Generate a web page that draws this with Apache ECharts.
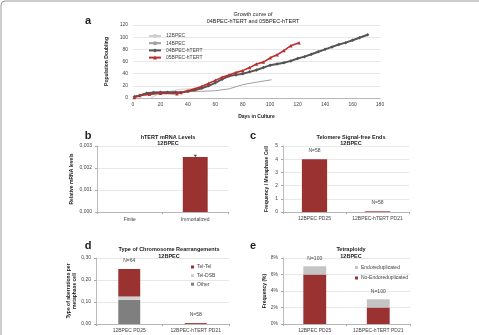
<!DOCTYPE html>
<html><head><meta charset="utf-8">
<script src="https://cdn.jsdelivr.net/npm/echarts@6/dist/echarts.min.js"></script>
<style>html,body{margin:0;padding:0;background:#fff}#c{width:479px;height:335px}</style>
</head><body><div id="c"></div>
<script>
// Panel a: growth curves [day, population doubling]
var bpec12 = [[13,0],[18,6],[25,10],[33,14],[40,15],[47,16],[55,19]];
var bpec14 = [[0,2],[10,8],[20,9],[30,10],[40,10.5],[50,11],[60,12],[70,15],[80,22],[90,26],[101,30]];
var bpec04 = [[1,2],[5,4],[10,8],[15,9],[20,9.5],[25,9.5],[31,9.5],[35,9],[40,11],[45,13],[50,16],[55,20],[60,25],[65,31],[70,36],[75,38],[80,40],[85,43],[90,46],[95,50],[100,54],[105,56],[110,58],[115,61],[120,65],[125,68],[130,72],[135,76],[140,80],[145,84],[150,88],[155,91],[160,95],[165,99],[171,104]];
var bpec05 = [[1,1],[5,4],[12,6],[20,8],[32,7],[35,9],[40,12],[45,15],[50,19],[55,24],[60,29],[65,34],[70,38],[75,42],[80,45],[85,50],[90,56],[95,59],[100,66],[105,71],[110,78],[115,86],[121,91]];
// Panel b
var bCats = ['Finite','Immortalized'];
var bVals = [0, 0.0025];
var bErr = [0, 0.00008];
// Panel c
var cCats = ['12BPEC PD25','12BPEC-hTERT PD21'];
var cVals = [4, 0.05];
var cN = ['N=58','N=58'];
// Panel d
var dCats = ['12BPEC PD25','12BPEC-hTERT PD21'];
var dOther = [0.11, 0];
var dTelDSB = [0.015, 0];
var dTelTel = [0.125, 0.004];
var dN = ['N=64','N=58'];
// Panel e
var eCats = ['12BPEC PD25','12BPEC-hTERT PD21'];
var eNoEndo = [6, 2];
var eEndo = [1, 1];
var eN = ['N=100','N=100'];

var RED = '#9b3232';
var FONT = 'Liberation Sans';
var tick = {fontSize:5, color:'#444', fontFamily:FONT};
var catTick = {fontSize:5, color:'#444', fontFamily:FONT, interval:0, hideOverlap:false};
var gridLine = {show:true, lineStyle:{color:'#e2e2e2', width:0.8}};
var axLine = {show:true, lineStyle:{color:'#aaa', width:0.8}};

function ttl(text, x, y, size, bold){
  return {text:text, left:x, top:y, textAlign:'center', textStyle:{fontSize:size, fontWeight:bold?'bold':'normal', color:'#222', fontFamily:FONT}};
}
function comma(d){ return function(v){ return v.toFixed(d).replace('.', ','); }; }

var chart = echarts.init(document.getElementById('c'), null, {renderer:'canvas'});
var option = {
  animation:false,
  textStyle:{fontFamily:FONT},
  title:[
    ttl('Growth curve of', 248, 6, 5.5, false),
    ttl('04BPEC-hTERT and 05BPEC-hTERT', 248, 13, 5.5, false),
    ttl('a', 83, 10, 11, true),
    ttl('hTERT mRNA Levels', 163, 129, 5.5, true),
    ttl('12BPEC', 163, 135.5, 5.5, true),
    ttl('b', 83, 125, 11, true),
    ttl('Telomere Signal-free Ends', 346, 129, 5.5, true),
    ttl('12BPEC', 346, 135.5, 5.5, true),
    ttl('c', 248, 125, 11, true),
    ttl('Type of Chromosome Rearrangements', 164, 241.5, 5.5, true),
    ttl('12BPEC', 164, 248, 5.5, true),
    ttl('d', 83, 235, 11, true),
    ttl('Tetraploidy', 346, 241.5, 5.5, true),
    ttl('12BPEC', 346, 248, 5.5, true),
    ttl('e', 248, 235, 11, true)
  ],
  graphic:[{type:'rect', shape:{x:1, y:1, width:520, height:400, r:4}, style:{fill:'none', stroke:'#9a9a9a', lineWidth:1}, silent:true}],
  legend:[
    {orient:'vertical', left:143, top:28.5, itemWidth:12, itemHeight:5, itemGap:2.2, textStyle:{fontSize:5, color:'#444'},
     data:['12BPEC','14BPEC','04BPEC-hTERT','05BPEC-hTERT']},
    {orient:'vertical', left:186, top:259.5, itemWidth:3, itemHeight:3, itemGap:3.6, icon:'rect', textStyle:{fontSize:5, color:'#444', padding:[0,0,0,-2]},
     data:['Tel-Tel','Tel-DSB','Other']},
    {orient:'vertical', left:350, top:260, itemWidth:3, itemHeight:3, itemGap:5.5, icon:'rect', textStyle:{fontSize:5, color:'#444', padding:[0,0,0,-2]},
     data:['Endoreduplicated','No-Endoreduplicated']}
  ],
  grid:[
    {left:133, top:25, width:247, height:73},
    {left:97, top:146, width:131, height:66},
    {left:283, top:146, width:126, height:66},
    {left:96, top:258, width:133, height:66},
    {left:283, top:258, width:127, height:66}
  ],
  xAxis:[
    {gridIndex:0, type:'value', min:0, max:180, interval:20, axisLine:axLine, axisTick:{show:false}, splitLine:{show:false},
     axisLabel:Object.assign({margin:4}, tick), name:'Days in Culture', nameLocation:'middle', nameGap:16,
     nameTextStyle:{fontSize:5, fontWeight:'bold', color:'#222'}},
    {gridIndex:1, type:'category', data:bCats, axisLine:axLine, axisTick:{show:true, lineStyle:{color:'#aaa'}, length:2}, axisLabel:Object.assign({margin:5}, catTick)},
    {gridIndex:2, type:'category', data:cCats, axisLine:axLine, axisTick:{show:true, lineStyle:{color:'#aaa'}, length:2}, axisLabel:Object.assign({margin:4}, catTick)},
    {gridIndex:3, type:'category', data:dCats, axisLine:axLine, axisTick:{show:true, lineStyle:{color:'#aaa'}, length:2}, axisLabel:Object.assign({margin:4}, catTick)},
    {gridIndex:4, type:'category', data:eCats, axisLine:axLine, axisTick:{show:true, lineStyle:{color:'#aaa'}, length:2}, axisLabel:Object.assign({margin:4}, catTick)}
  ],
  yAxis:[
    {gridIndex:0, type:'value', min:0, max:120, interval:20, axisLine:{show:false}, axisTick:{show:false}, splitLine:gridLine,
     axisLabel:Object.assign({margin:5}, tick), name:'Population Doubling', nameLocation:'middle', nameGap:19, nameRotate:90,
     nameTextStyle:{fontSize:5, fontWeight:'bold', color:'#222'}},
    {gridIndex:1, type:'value', min:0, max:0.003, interval:0.001, axisLine:axLine, axisTick:{show:true, length:2, lineStyle:{color:'#aaa'}}, splitLine:gridLine,
     axisLabel:Object.assign({margin:5, formatter:comma(3)}, tick), name:'Relative mRNA levels', nameLocation:'middle', nameGap:23, nameRotate:90,
     nameTextStyle:{fontSize:5, fontWeight:'bold', color:'#222'}},
    {gridIndex:2, type:'value', min:0, max:5, interval:1, axisLine:axLine, axisTick:{show:true, length:2, lineStyle:{color:'#aaa'}}, splitLine:gridLine,
     axisLabel:Object.assign({margin:5}, tick), name:'Frequency / Metaphase Cell', nameLocation:'middle', nameGap:14, nameRotate:90,
     nameTextStyle:{fontSize:5, fontWeight:'bold', color:'#222'}},
    {gridIndex:3, type:'value', min:0, max:0.3, interval:0.1, axisLine:axLine, axisTick:{show:true, length:2, lineStyle:{color:'#aaa'}}, splitLine:gridLine,
     axisLabel:Object.assign({margin:5, formatter:comma(2)}, tick), name:'Type of aberrations per\nmetaphase cell', nameLocation:'middle', nameGap:17, nameRotate:90,
     nameTextStyle:{fontSize:5, fontWeight:'bold', color:'#222', lineHeight:6}},
    {gridIndex:4, type:'value', min:0, max:8, interval:2, axisLine:axLine, axisTick:{show:true, length:2, lineStyle:{color:'#aaa'}}, splitLine:gridLine,
     axisLabel:Object.assign({margin:5, formatter:'{value}%'}, tick), name:'Frequency (%)', nameLocation:'middle', nameGap:15, nameRotate:90,
     nameTextStyle:{fontSize:5, fontWeight:'bold', color:'#222'}}
  ],
  series:[
    {name:'12BPEC', type:'line', xAxisIndex:0, yAxisIndex:0, data:bpec12, showSymbol:false, symbol:'none', lineStyle:{color:'#cfcfcf', width:1}, itemStyle:{color:'#cfcfcf'}},
    {name:'14BPEC', type:'line', xAxisIndex:0, yAxisIndex:0, data:bpec14, showSymbol:false, symbol:'none', lineStyle:{color:'#a0a0a0', width:1}, itemStyle:{color:'#a0a0a0'}},
    {name:'04BPEC-hTERT', type:'line', xAxisIndex:0, yAxisIndex:0, data:bpec04, symbol:'diamond', symbolSize:3.5, lineStyle:{color:'#555', width:2}, itemStyle:{color:'#555'}},
    {name:'05BPEC-hTERT', type:'line', xAxisIndex:0, yAxisIndex:0, data:bpec05, symbol:'triangle', symbolSize:3.5, lineStyle:{color:'#b8302e', width:1.6}, itemStyle:{color:'#b8302e'}},

    {type:'bar', xAxisIndex:1, yAxisIndex:1, data:bVals, barWidth:'38%', itemStyle:{color:RED}},
    {type:'custom', xAxisIndex:1, yAxisIndex:1, data:bVals.map(function(v,i){return [i, v, bErr[i]];}),
     renderItem:function(params, api){
       var e = api.value(2); if(!e) return null;
       var top = api.coord([api.value(0), api.value(1)+e]);
       var bot = api.coord([api.value(0), api.value(1)-e]);
       var st = {stroke:'#222', lineWidth:0.8};
       return {type:'group', children:[
         {type:'line', shape:{x1:top[0], y1:top[1], x2:bot[0], y2:bot[1]}, style:st},
         {type:'line', shape:{x1:top[0]-1.5, y1:top[1], x2:top[0]+1.5, y2:top[1]}, style:st},
         {type:'line', shape:{x1:bot[0]-1.5, y1:bot[1], x2:bot[0]+1.5, y2:bot[1]}, style:st}
       ]};
     }},

    {type:'bar', xAxisIndex:2, yAxisIndex:2, data:cVals.map(function(v,i){return {value:v, label:{formatter:cN[i]}};}), barWidth:'40%', itemStyle:{color:RED},
     label:{show:true, position:'top', distance:6, fontSize:5, color:'#444'}},

    {name:'Other', type:'bar', stack:'d', xAxisIndex:3, yAxisIndex:3, data:dOther, barWidth:'33%', itemStyle:{color:'#7f7f7f'}},
    {name:'Tel-DSB', type:'bar', stack:'d', xAxisIndex:3, yAxisIndex:3, data:dTelDSB, barWidth:'33%', itemStyle:{color:'#cfcfcf'}},
    {name:'Tel-Tel', type:'bar', stack:'d', xAxisIndex:3, yAxisIndex:3, data:dTelTel.map(function(v,i){return {value:v, label:{formatter:dN[i]}};}), barWidth:'33%', itemStyle:{color:RED},
     label:{show:true, position:'top', distance:6, fontSize:5, color:'#444'}},

    {name:'No-Endoreduplicated', type:'bar', stack:'e', xAxisIndex:4, yAxisIndex:4, data:eNoEndo, barWidth:'36%', itemStyle:{color:RED}},
    {name:'Endoreduplicated', type:'bar', stack:'e', xAxisIndex:4, yAxisIndex:4, data:eEndo.map(function(v,i){return {value:v, label:{formatter:eN[i]}};}), barWidth:'36%', itemStyle:{color:'#c4c4c4'},
     label:{show:true, position:'top', distance:5, fontSize:5, color:'#444'}}
  ]
};
chart.setOption(option);
</script></body></html>
